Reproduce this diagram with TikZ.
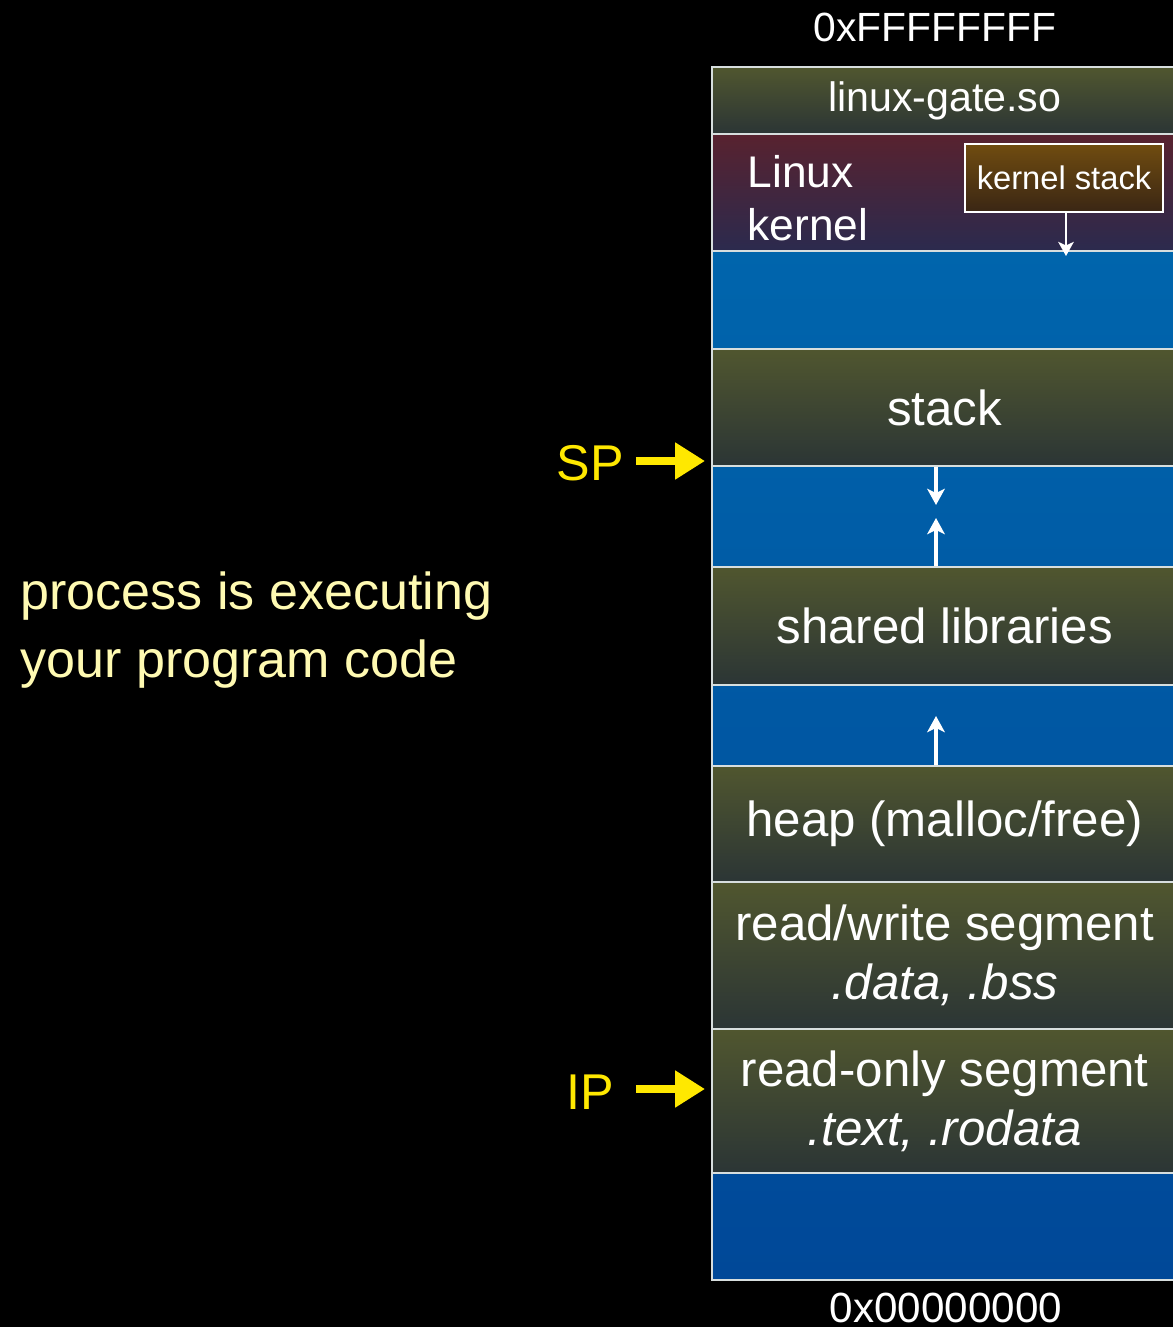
\documentclass[tikz,border=0pt]{standalone}
\usepackage{fontspec}
\setmainfont{Liberation Sans}
\usetikzlibrary{arrows.meta,positioning}

\definecolor{segtop}{RGB}{80,86,47}
\definecolor{segbot}{RGB}{43,53,53}
\definecolor{kertop}{RGB}{88,34,47}
\definecolor{kerbot}{RGB}{43,42,78}
\definecolor{memtop}{RGB}{0,106,176}
\definecolor{membot}{RGB}{0,72,152}
\definecolor{kstop}{RGB}{112,76,16}
\definecolor{ksbot}{RGB}{58,38,20}
\definecolor{segline}{RGB}{215,222,222}
\definecolor{ptr}{RGB}{255,232,0}
\definecolor{note}{RGB}{255,250,178}

\begin{document}
\begin{tikzpicture}[
    x=0.01cm, y=-0.01cm,
    seg/.style={rectangle, draw=segline, line width=0.6pt, anchor=north west, minimum width=4.65cm, top color=segtop, bottom color=segbot, text=white, align=center, inner sep=0pt, font=\fontsize{14}{16.8}\selectfont},
    addr/.style={text=white, font=\fontsize{11.6}{13}\selectfont},
    ptrlabel/.style={text=ptr, font=\fontsize{14.3}{17}\selectfont},
    ptrarrow/.style={draw=ptr, line width=2.3pt, -{Triangle[length=8.5pt,width=10pt]}},
    growarrow/.style={draw=white, line width=0.9pt, -{Stealth[length=4.6pt,width=5pt,inset=1.2pt]}}
]

% Page
\fill[black] (0,0) rectangle (1173,1327);
\useasboundingbox (0,0) rectangle (1173,1327);

% Address space column
\node[seg, minimum height=12.12cm, top color=memtop, bottom color=membot] (mem) at (711,66) {};
\node[addr] (hi) at (935,27) {0xFFFFFFFF};
\node[addr, font=\fontsize{12}{14}\selectfont] (lo) at (946,1308) {0x00000000};

% Segments
\node[seg, minimum height=0.67cm, font=\fontsize{11.7}{14}\selectfont] (gate) at (711,66) {\raisebox{-2pt}{linux-gate.so}};
\node[seg, minimum height=1.17cm, top color=kertop, bottom color=kerbot] (kernel) at (711,133) {};
\node[seg, minimum height=1.17cm] (stack) at (711,348) {stack};
\node[seg, minimum height=1.18cm] (shlib) at (711,566) {shared libraries};
\node[seg, minimum height=1.16cm] (heap) at (711,765) {heap (malloc/free)};
\node[seg, minimum height=1.47cm] (rw) at (711,881) {read/write segment\\\textit{.data, .bss}};
\node[seg, minimum height=1.44cm] (ro) at (711,1028) {read-only segment\\\textit{.text, .rodata}};

% Kernel
\node[text=white, anchor=west, align=left, inner sep=0pt, font=\fontsize{12.6}{15}\selectfont] (ktext) at (747,198) {Linux\\kernel};
\node[draw=white, line width=0.8pt, top color=kstop, bottom color=ksbot, minimum width=1.98cm, minimum height=0.68cm, inner sep=0pt, text=white, font=\fontsize{9.3}{11}\selectfont] (kstack) at (1064,178) {kernel stack};

% Growth arrows
\coordinate (kend) at (1066,256);
\coordinate (sdown) at (936,505);
\coordinate (lup) at (936,518);
\coordinate (hup) at (936,716);
\draw[growarrow, line width=0.7pt, -{Stealth[length=4pt,width=4.4pt,inset=1pt]}] (kend |- kstack.south) -- (kend);
\draw[growarrow] (sdown |- stack.south) -- (sdown);
\draw[growarrow] (lup |- shlib.north) -- (lup);
\draw[growarrow] (hup |- heap.north) -- (hup);

% Registers
\node[ptrlabel] (sp) at (590,463) {SP};
\node[ptrlabel] (ip) at (590,1092) {IP};
\coordinate (spt) at (705,461);
\coordinate (ipt) at (705,1089);
\draw[ptrarrow] (sp.east |- spt) -- (spt);
\draw[ptrarrow] (sp.east |- ipt) -- (ipt);

% Note
\node[text=note, anchor=west, align=left, inner sep=0pt, font=\fontsize{14.8}{19.3}\selectfont] (note) at (20,630) {process is executing\\your program code};

\end{tikzpicture}
\end{document}
